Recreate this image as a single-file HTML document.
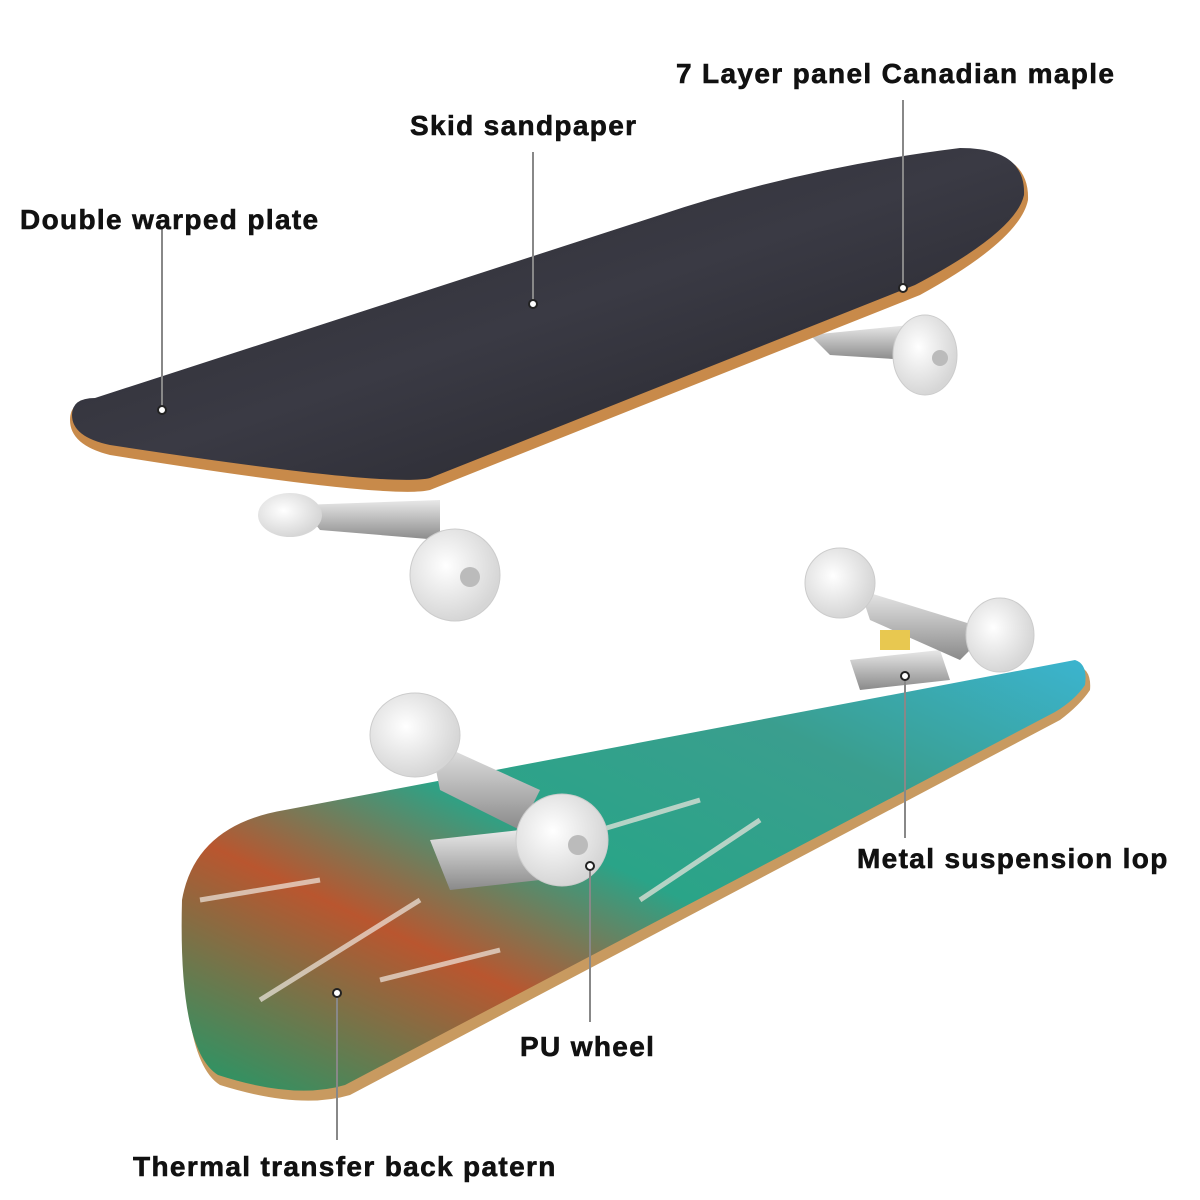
<!DOCTYPE html>
<html><head><meta charset="utf-8"><style>
html,body{margin:0;padding:0;background:#fff;}
.w{position:relative;width:1200px;height:1200px;overflow:hidden;background:#fff;}
svg{position:absolute;left:0;top:0;}
.t{font-family:"Liberation Sans",sans-serif;font-weight:bold;font-size:28px;fill:#111;letter-spacing:1.35px;stroke:#111;stroke-width:0.6px;}
</style></head><body><div class="w">
<svg width="1200" height="1200" viewBox="0 0 1200 1200">
<defs>
<linearGradient id="grip" x1="0" y1="0" x2="1" y2="1"><stop offset="0" stop-color="#2a2a30"/><stop offset="0.5" stop-color="#3a3a44"/><stop offset="1" stop-color="#222228"/></linearGradient>
<linearGradient id="art" x1="0" y1="1" x2="1" y2="0"><stop offset="0" stop-color="#1f9a6a"/><stop offset="0.3" stop-color="#b9562f"/><stop offset="0.5" stop-color="#2aa488"/><stop offset="0.75" stop-color="#3a9e8e"/><stop offset="1" stop-color="#3bb4cf"/></linearGradient>
<radialGradient id="wh" cx="0.4" cy="0.4" r="0.6"><stop offset="0" stop-color="#ffffff"/><stop offset="1" stop-color="#d6d6d6"/></radialGradient>
<linearGradient id="mt" x1="0" y1="0" x2="0" y2="1"><stop offset="0" stop-color="#e8e8e8"/><stop offset="1" stop-color="#8a8a8a"/></linearGradient>
</defs>
<path d="M300,505 L440,500 L440,540 L320,530 Z" fill="url(#mt)"/>
<ellipse cx="290" cy="515" rx="32" ry="22" fill="url(#wh)"/>
<ellipse cx="455" cy="575" rx="45" ry="46" fill="url(#wh)" stroke="#ccc"/>
<circle cx="470" cy="577" r="10" fill="#bbb"/>
<path d="M810,335 L910,325 L910,360 L830,355 Z" fill="url(#mt)"/>
<ellipse cx="925" cy="355" rx="32" ry="40" fill="url(#wh)" stroke="#ccc"/>
<circle cx="940" cy="358" r="8" fill="#bbb"/>
<path d="M70,420 Q70,400 95,400 L660,218 Q800,170 960,150 Q1030,150 1028,200 Q1020,240 920,295 L430,490 Q390,500 110,455 Q70,445 70,420 Z" fill="#c88a4a"/>
<path d="M72,415 Q72,398 95,398 L660,215 Q800,168 960,148 Q1026,148 1024,195 Q1016,232 915,285 L430,478 Q390,488 110,445 Q72,437 72,415 Z" fill="url(#grip)"/>
<path d="M185,905 Q200,830 290,815 L1075,665 Q1092,668 1090,690 Q1080,705 1060,720 L350,1095 Q300,1110 220,1085 Q180,1060 185,905 Z" fill="#c89a60"/>
<path d="M182,900 Q195,825 285,810 L1075,660 Q1088,664 1085,685 Q1075,700 1055,712 L345,1085 Q295,1100 218,1075 Q178,1050 182,900 Z" fill="url(#art)"/>
<path d="M200,900 L320,880 M260,1000 L420,900 M500,860 L700,800 M640,900 L760,820 M380,980 L500,950" stroke="#f0e8e0" stroke-width="5" opacity="0.7"/>
<path d="M430,840 L520,830 L540,880 L450,890 Z" fill="url(#mt)"/>
<path d="M430,740 L540,790 L520,830 L440,790 Z" fill="url(#mt)"/>
<ellipse cx="415" cy="735" rx="45" ry="42" fill="url(#wh)" stroke="#ccc"/>
<ellipse cx="562" cy="840" rx="46" ry="46" fill="url(#wh)" stroke="#ccc"/>
<circle cx="578" cy="845" r="10" fill="#bbb"/>
<path d="M850,660 L940,650 L950,680 L860,690 Z" fill="url(#mt)"/>
<path d="M860,590 L990,630 L960,660 L870,620 Z" fill="url(#mt)"/>
<rect x="880" y="630" width="30" height="20" fill="#e8c850"/>
<ellipse cx="840" cy="583" rx="35" ry="35" fill="url(#wh)" stroke="#ccc"/>
<ellipse cx="1000" cy="635" rx="34" ry="37" fill="url(#wh)" stroke="#ccc"/>
<g stroke="#888" stroke-width="2">
<line x1="903" y1="100" x2="903" y2="284"/>
<line x1="533" y1="152" x2="533" y2="300"/>
<line x1="162" y1="228" x2="162" y2="406"/>
<line x1="905" y1="680" x2="905" y2="838"/>
<line x1="590" y1="870" x2="590" y2="1022"/>
<line x1="337" y1="997" x2="337" y2="1140"/>
</g>
<g fill="#fff" stroke="#222" stroke-width="2">
<circle cx="903" cy="288" r="4"/><circle cx="533" cy="304" r="4"/><circle cx="162" cy="410" r="4"/>
<circle cx="905" cy="676" r="4"/><circle cx="590" cy="866" r="4"/><circle cx="337" cy="993" r="4"/>
</g>
<text class="t" x="676" y="83">7 Layer panel Canadian maple</text>
<text class="t" x="410" y="135">Skid sandpaper</text>
<text class="t" x="20" y="229">Double warped plate</text>
<text class="t" x="857" y="868">Metal suspension lop</text>
<text class="t" x="520" y="1056">PU wheel</text>
<text class="t" x="133" y="1176">Thermal transfer back patern</text>
</svg></div></body></html>
